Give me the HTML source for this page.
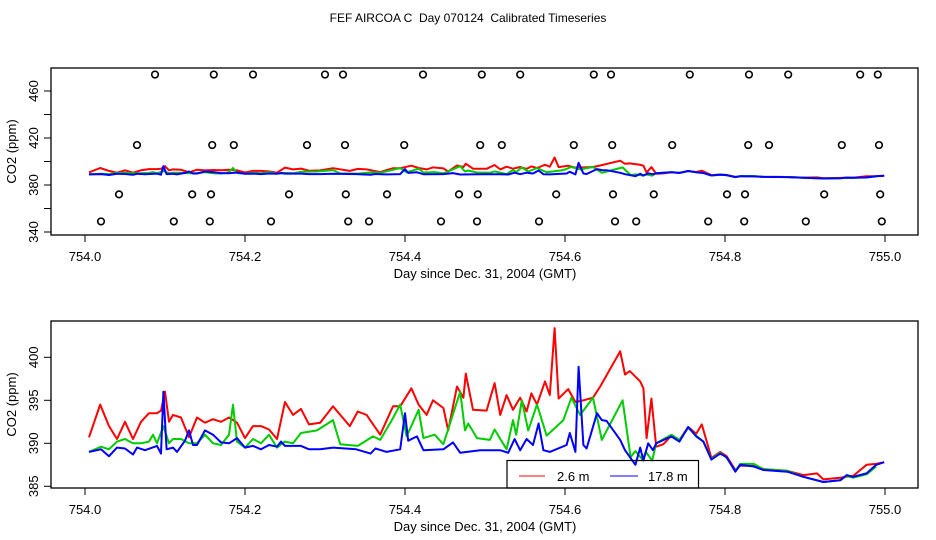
<!DOCTYPE html>
<html><head><meta charset="utf-8">
<style>
html,body{margin:0;padding:0;background:#fff;}
svg{display:block;font-family:"Liberation Sans",sans-serif;}
</style></head>
<body>
<svg id="chart" width="936" height="540" viewBox="0 0 936 540" xmlns="http://www.w3.org/2000/svg">
<rect x="0" y="0" width="936" height="540" fill="#fff"/>
<text x="468" y="22" font-size="12" text-anchor="middle" style="white-space:pre" xml:space="preserve">FEF AIRCOA C  Day 070124  Calibrated Timeseries</text>
<g id="top"></g>
<g id="bot"></g>
</svg>
<script>
// ---- data ----
const xTicks = [754.0, 754.2, 754.4, 754.6, 754.8, 755.0];
const xTickLabels = ["754.0", "754.2", "754.4", "754.6", "754.8", "755.0"];
const topYTicks = [340, 360, 380, 400, 420, 440, 460];
const topYLabels = ["340", "", "380", "", "420", "", "460"];
const botYTicks = [385, 390, 395, 400];
const botYLabels = ["385", "390", "395", "400"];

const flagRowLevels = [474, 414, 372, 349];
const flagRow474 = [754.0875,754.161,754.21,754.30,754.3225,754.4225,754.496,754.544,754.636,754.6575,754.756,754.83,754.879,754.969,754.991];
const flagRow414 = [754.065,754.159,754.186,754.2775,754.325,754.399,754.494,754.521,754.611,754.659,754.734,754.829,754.855,754.946,754.9925];
const flagRow372 = [754.0425,754.134,754.1575,754.255,754.326,754.3775,754.4675,754.491,754.589,754.66,754.711,754.8025,754.825,754.924,754.994];
const flagRow349 = [754.02,754.111,754.156,754.2325,754.329,754.355,754.445,754.49,754.5675,754.6625,754.689,754.779,754.824,754.901,754.996];

const redT = [.005,.019,.03,.04,.05,.06,.07,.08,.09,.095,.10,.105,.11,.12,.13,.14,.15,.16,.17,.18,.19,.20,.21,.22,.23,.24,.25,.26,.27,.28,.294,.31,.331,.341,.352,.369,.385,.394,.408,.417,.427,.435,.448,.454,.465,.473,.476,.485,.502,.512,.519,.527,.535,.544,.552,.558,.565,.575,.581,.587,.592,.604,.613,.623,.635,.644,.669,.675,.681,.694,.698,.702,.708,.714,.723,.733,.743,.754,.764,.771,.783,.794,.802,.813,.819,.836,.848,.878,.898,.915,.923,.944,.952,.96,.977,.989,.999];
const redV = [390.7,394.5,392,390.5,392.5,390.5,392.5,393.5,393.5,393.8,396,392.5,393.3,393,390.7,393,392.4,392.8,392.5,393,392.4,390.6,392,392,391.6,390.5,394.8,393.3,394,392.2,392.4,394.3,392,393.7,393.3,391,394.3,394.3,396.4,394.5,393.3,395,394.1,391.5,396.6,395.3,398.1,393.9,393.8,397,393.3,395.6,393.9,395.3,393.7,395.8,394.5,397.2,395.6,403.4,395.2,396.3,394.8,395,395.3,396.6,400.7,398,398.4,397.2,396.4,390.6,395.2,389.6,389.9,390.9,390.4,391.9,391.1,392.2,388.3,389,388.5,386.9,387.4,387.4,387,386.8,386.3,386.5,385.8,386,386.1,386.2,387.5,387.6,387.8];

const greenT = [.005,.02,.03,.04,.05,.06,.07,.08,.085,.09,.098,.105,.11,.12,.13,.14,.15,.16,.17,.18,.185,.19,.20,.21,.22,.23,.24,.25,.26,.27,.29,.31,.319,.341,.360,.369,.383,.394,.402,.417,.423,.437,.448,.469,.475,.479,.490,.506,.512,.527,.535,.539,.546,.554,.565,.577,.598,.608,.619,.635,.646,.672,.682,.688,.697,.701,.709,.714,.733,.743,.754,.764,.773,.783,.794,.802,.813,.819,.836,.848,.878,.898,.923,.944,.952,.96,.977,.989];
const greenV = [389,389.6,389.3,390.2,390.5,390,390,390.2,391,390,392,390,390.5,390.5,390,390,391,390,389.8,391,394.5,390.2,389.5,390.5,390,391,389.5,390.2,390,391.2,391.5,392.7,389.9,389.7,390.8,390.4,392.6,394.5,390.8,393.9,390.6,391,389.9,396,391.5,392.3,390.6,390.4,391.6,389.3,392.7,391,395,391.5,394.5,390.9,392.7,395.3,393.3,395.3,390.4,395,388.4,389.1,388.1,389,388,390,391,390.4,391.8,390.9,390.2,388.2,388.9,388.3,386.8,387.6,387.6,387,386.8,386.1,385.5,385.7,386.2,386,386.4,387.3];

const blueT = [.005,.02,.03,.04,.05,.06,.065,.075,.09,.095,.098,.102,.11,.115,.125,.13,.135,.14,.15,.16,.17,.18,.19,.20,.21,.22,.23,.24,.245,.25,.27,.28,.294,.31,.339,.357,.363,.377,.394,.400,.404,.415,.423,.448,.460,.469,.494,.519,.529,.537,.544,.552,.560,.567,.573,.581,.602,.606,.613,.617,.623,.627,.640,.646,.652,.669,.675,.688,.694,.698,.704,.710,.714,.733,.743,.754,.764,.773,.783,.794,.802,.813,.819,.836,.848,.878,.898,.923,.944,.952,.96,.977,.989,.999];
const blueV = [389,389.3,388.5,389.5,389.4,388.7,389.5,389.2,389.7,388.8,396,389.3,389.5,389,390.3,391.5,389.8,389.8,391.5,391,390.1,390,390.6,389.5,389.7,389.3,389.8,389.6,390.2,389.7,389.7,389.3,389.3,389.5,389.3,388.8,389.4,389,389.3,393.5,390.3,390.8,389.2,389.3,390.1,388.9,389.2,389.2,388.9,390.5,389.2,390.5,389.8,392.3,389.2,389,389.8,391.2,389,398.9,389.8,389.4,393.5,392.7,392.6,390.4,389.2,387.5,389.5,388,390,389.2,390,390.8,390.2,391.9,390.8,390.2,388.1,388.8,388.4,386.7,387.5,387.3,386.9,386.7,386.1,385.5,385.7,386.3,386.1,386.5,387.5,387.8];

// ---- drawing ----
const NS = "http://www.w3.org/2000/svg";
function mk(parent, tag, attrs){ const e=document.createElementNS(NS,tag); for(const k in attrs) e.setAttribute(k,attrs[k]); parent.appendChild(e); return e; }
const X0 = 51, X1 = 918;
function xScale(d){ return 85 + (d - 754) * 800; }

function panel(g, yTop, yBot, yScale, yTicks, yLabels, prefix){
  const box = mk(g,'rect',{x:X0,y:yTop,width:X1-X0,height:yBot-yTop,fill:'none',stroke:'#000','stroke-width':1.3});
  
  
  xTicks.forEach((t,i)=>{
    const x = xScale(t);
    const l = mk(g,'line',{x1:x,x2:x,y1:yBot,y2:yBot+7,stroke:'#000','stroke-width':1});
    
    
    const tx = mk(g,'text',{x:x,y:yBot+26,'font-size':13,'text-anchor':'middle'});
    tx.textContent = xTickLabels[i];
    
    
  });
  yTicks.forEach((t,i)=>{
    const y = yScale(t);
    const l = mk(g,'line',{x1:X0-7,x2:X0,y1:y,y2:y,stroke:'#000','stroke-width':1});
    
    
    if(yLabels[i]){
      const tx = mk(g,'text',{x:0,y:0,'font-size':13,'text-anchor':'middle',transform:`translate(38,${y}) rotate(-90)`});
      tx.textContent = yLabels[i];
      
      
    }
  });
  const yl = mk(g,'text',{x:0,y:0,'font-size':13,'text-anchor':'middle',transform:`translate(16,${(yTop+yBot)/2}) rotate(-90)`});
  yl.textContent = 'CO2 (ppm)';
  
  
  const xl = mk(g,'text',{x:485,y:yBot+43,'font-size':13,'text-anchor':'middle'});
  xl.textContent = 'Day since Dec. 31, 2004 (GMT)';
  
  
}
function series(g, T, V, yScale, color, name){
  const pts = T.map((t,i)=> xScale(754+t).toFixed(1)+','+yScale(V[i]).toFixed(1)).join(' ');
  const p = mk(g,'polyline',{points:pts,fill:'none',stroke:color,'stroke-width':2,'stroke-linejoin':'round'});
  
  
}

// top panel
const gTop = document.getElementById('top');
const yTopS = v => 232 - (v - 340) * 47 / 40;
panel(gTop, 68, 235, yTopS, topYTicks, topYLabels, 'top');
series(gTop, redT, redV, yTopS, '#f00', 'top-series-red');
series(gTop, greenT, greenV, yTopS, '#0c0', 'top-series-green');
series(gTop, blueT, blueV, yTopS, '#00f', 'top-series-blue');
[flagRow474, flagRow414, flagRow372, flagRow349].forEach((row,r)=>{
  row.forEach(d=>{
    const c = mk(gTop,'circle',{cx:xScale(d),cy:yTopS(flagRowLevels[r]),r:3.3,fill:'none',stroke:'#000','stroke-width':1.6});
    
    
  });
});

// bottom panel
const gBot = document.getElementById('bot');
const yBotS = v => 443.3 - (v - 390) * 8.6;
panel(gBot, 321, 488, yBotS, botYTicks, botYLabels, 'bottom');
series(gBot, redT, redV, yBotS, '#f00', 'bottom-series-2-6m');
series(gBot, greenT, greenV, yBotS, '#0c0', 'bottom-series-green');
series(gBot, blueT, blueV, yBotS, '#00f', 'bottom-series-17-8m');

// legend
const lg = mk(gBot,'g',{});


const lb = mk(lg,'rect',{x:507,y:460.5,width:191.5,height:27.5,fill:'none',stroke:'#000','stroke-width':1.2});


const l1 = mk(lg,'line',{x1:519,x2:545,y1:476,y2:476,stroke:'#f00','stroke-width':1});


const t1 = mk(lg,'text',{x:557,y:481,'font-size':13}); t1.textContent='2.6 m';


const l2 = mk(lg,'line',{x1:610,x2:638,y1:476,y2:476,stroke:'#00f','stroke-width':1});


const t2 = mk(lg,'text',{x:648,y:481,'font-size':13}); t2.textContent='17.8 m';


</script>
</body></html>
